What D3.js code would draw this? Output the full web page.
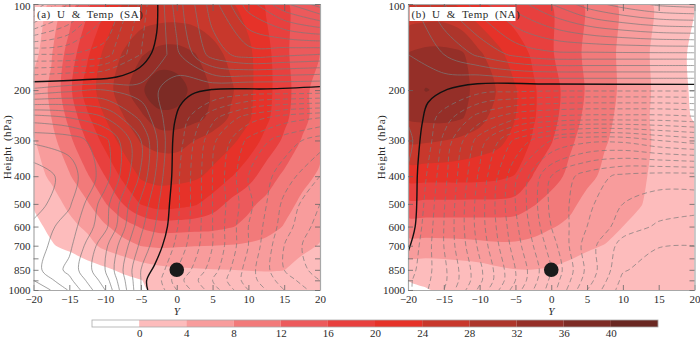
<!DOCTYPE html>
<html>
<head>
  <meta charset="utf-8">
  <script src="https://d3js.org/d3.v7.min.js"></script>
  <style>
    body { margin: 0; background: #fff; }
    svg { display: block; font-family: "Liberation Serif", serif; }
    .axis path { stroke: #a8a8a8; stroke-width: 1.2px; fill: none; }
    .axis line { stroke: #666; stroke-width: 0.8px; }
    .axis text { font-size: 11px; fill: #2a2a2a; font-family: "Liberation Serif", serif; }
  </style>
</head>
<body>
  <div id="chart"></div>
  <script>
    // Grid of the fields: hPa rows from the top of the plot, Y columns
    const levels = [100, 150, 200, 250, 300, 400, 500, 600, 700, 850, 925, 1000];
    const tempCols = [-20, -17.5, -15, -12.5, -10, -7.5, -5, -2.5, 0, 2.5, 5, 7.5, 10, 12.5, 15, 17.5, 20];
    const windCols = [-20, -15, -10, -5, 0, 5, 10, 15, 20];

    // Temperature anomaly, panel (a) SA
    const tempA = [
      [2, 4.5, 9.7, 15, 19.3, 24.1, 24.3, 24.5, 24.7, 24.7, 24.6, 24.3, 22.7, 19.5, 16.7, 14, 11.8],
      [2.5, 7.7, 13.8, 19.3, 25.2, 28.3, 31.6, 33.5, 33.7, 32.2, 29.5, 27, 24.8, 21.3, 16.8, 14, 12],
      [5.3, 8.7, 15, 22, 26, 30.3, 35.3, 39, 38, 34.7, 31.5, 28.7, 25, 21.3, 17.5, 13.8, 9.5],
      [5.5, 8, 13, 19.2, 24, 27.7, 31, 34.6, 34.7, 33.3, 31, 27.5, 24.6, 20.8, 17, 13.3, 10],
      [3.7, 6.7, 11, 16.3, 21.5, 25.4, 28.3, 29.5, 29.5, 28, 26, 25, 22.3, 18.8, 15.3, 11.7, 9],
      [2.5, 4.6, 7.6, 11.5, 16, 21, 24.5, 25, 25, 24.6, 23.2, 20.3, 17.6, 14, 11.2, 9, 7.5],
      [0.3, 2.5, 4.8, 7.5, 11.7, 16, 20.2, 22, 21.5, 20.5, 18, 15, 12.8, 11, 9.2, 7.3, 5.8],
      [-1.2, 1, 3, 4.7, 7.5, 10, 12.4, 13.8, 13.8, 13.5, 13.2, 12.3, 11, 9.5, 7.8, 6.2, 4.8],
      [-2.8, -0.4, 1.2, 2.7, 5, 6.5, 8.1, 8.5, 8.3, 8.1, 8, 7.8, 7.4, 6.8, 5.8, 4.8, 3.8],
      [-6, -5, -3.7, -1.8, -0.7, 0.8, 2, 3, 3.5, 3.7, 3.9, 4, 4.1, 4.2, 4.05, 2.8, 1.8],
      [-7, -6, -4.5, -3.5, -2.5, -1.2, -0.1, 1.3, 2, 2.5, 2.8, 3, 3, 3, 2.6, 2, 1.5],
      [-8, -7, -6, -5, -3.5, -2, -0.5, 0.8, 1.5, 2, 2.2, 2.4, 2.4, 2.4, 2.2, 1.8, 1.5]
    ];

    // Temperature anomaly, panel (b) NA
    const tempB = [
      [24.5, 25, 25, 23, 20.5, 19, 17.8, 16.9, 16, 13.8, 11.5, 9.4, 7.3, 5.3, 3.3, 1.6, 0.2],
      [32.2, 33.2, 33.2, 32.6, 28.7, 25.2, 22, 19.4, 16.4, 13.8, 11.2, 9.3, 7.2, 5, 3, 1.4, -1],
      [34, 36.2, 35.2, 33, 30.8, 27.7, 24.3, 20.5, 17.6, 14.5, 11.6, 9.4, 7.3, 5.1, 3.2, 1, -0.5],
      [32.4, 33, 33.2, 32.3, 29.5, 26, 24, 20.4, 17.3, 14, 11, 8.9, 7, 5, 3, 1.3, -0.3],
      [28.7, 28.5, 28, 27, 26, 25, 22.8, 19.5, 16.3, 12.7, 10.5, 8.3, 6.8, 5, 3.3, 2, 1],
      [21.5, 21.5, 21.5, 21.5, 21.3, 20.9, 19.8, 15.8, 13.5, 11.2, 9, 7.2, 5.9, 4.4, 3.3, 2.5, 2],
      [15, 15, 15, 15, 15, 15, 14.5, 12.3, 10.6, 9, 6.8, 5.8, 5, 4.1, 3, 2.5, 2],
      [10, 10, 10, 10, 10, 10, 9.8, 9.3, 8.3, 7.2, 6, 5, 4, 3.3, 2.7, 2.2, 2],
      [6.5, 6.6, 6.7, 6.9, 7.2, 7.5, 7.5, 7, 6, 5.2, 4.4, 3.9, 3.3, 2.8, 2.4, 2.2, 2],
      [1.5, 1.6, 1.8, 2.2, 2.6, 3.4, 3.9, 3.95, 3.7, 3.2, 2.8, 2.5, 2.3, 2.2, 2, 1.9, 1.9],
      [0, 0.6, 1, 1.2, 1.5, 1.8, 2, 2, 2, 2, 1.9, 1.8, 1.7, 1.7, 1.7, 1.7, 1.7],
      [-1, -0.2, 0.5, 0.8, 1, 1, 1, 1, 1, 1, 1, 1, 1, 1, 1, 1, 1]
    ];

    // Zonal wind, panel (a)
    const windA = [
      [24, 18, 11, 3.5, -5, -11, -17, -21.6, -25],
      [8, 8, 7, 2, -3.5, -9, -11, -10.5, -10],
      [-2.5, -3.5, -4, -3, -1, -0.2, 0.6, 0.6, 0.7],
      [-13, -12, -10, -5.5, 0.2, 5.5, 9, 11, 12],
      [-17.6, -17.2, -14.6, -8, 0.8, 7.5, 12.5, 15, 17],
      [-21.5, -19, -15, -7.6, 1.5, 8, 14, 17, 20],
      [-21, -18.3, -12.9, -5.5, 1.5, 8, 13.4, 18.5, 22],
      [-19.5, -17, -12.6, -4.5, 1.8, 8, 14, 19, 23],
      [-19, -16.5, -10.5, -3.5, 2.5, 8, 14, 20, 24],
      [-18.8, -15.4, -10, -2, 4, 9, 15, 20, 23],
      [-20, -16.5, -11, -2, 5, 10, 15, 19, 22],
      [-22, -17.8, -12, -2, 4, 9, 14, 18, 21]
    ];

    // Zonal wind, panel (b)
    const windB = [
      [-3, -8, -11, -15, -18, -21, -23, -24.5, -25],
      [-2, -4, -6.5, -8.5, -9.5, -9.5, -9.5, -9.5, -9.5],
      [-2, -0.2, 1.3, 1.5, 1.7, 1.7, 1.7, 1.7, 1.7],
      [-1.5, 3, 7, 9.5, 10.5, 11, 11, 11, 10.5],
      [-3, 4.5, 11, 16.5, 20, 21.5, 21.5, 20, 19],
      [-1.5, 5.3, 12.4, 19.6, 26, 29, 30.5, 31, 31],
      [-1, 5.8, 13, 20, 26.5, 29.5, 32, 33, 33],
      [-0.5, 6, 13, 19.5, 26, 30, 33, 34.3, 35],
      [0.2, 6, 12.5, 19, 25, 31, 34.8, 35.9, 36],
      [1, 5.5, 11.5, 18, 24, 30.5, 35.8, 37, 37],
      [1.5, 5.5, 11.5, 18, 24.5, 31, 36.5, 37, 37],
      [1.5, 6, 12.5, 19, 25, 32, 37, 37, 37]
    ];

    // Zero wind line, [Y, hPa]
    const zeroA1 = [[-2.65, 100], [-2.8, 126], [-3.5, 148], [-5.2, 167], [-8.4, 180], [-13.1, 184], [-20, 187]];
    const zeroA2 = [[-4.05, 1000], [-4.2, 925], [-3.1, 817], [-2, 701], [-1.3, 600], [-1, 495], [-0.7, 399], [-0.55, 298], [-0.3, 260], [0.4, 228], [2.1, 207], [5, 199], [12.6, 198], [20, 194.5]];
    const zeroB = [[-20, 736], [-19, 600], [-18.7, 399], [-18.6, 359], [-18, 260], [-17.2, 221], [-14.5, 199], [-10.3, 190], [-0.1, 190.5], [20, 191]];

    // Shading
    const tempThresholds = [0, 4, 8, 12, 16, 20, 24, 28, 32, 36, 40];
    const tempColors = ["#fdbcbc", "#f89c9c", "#f27a7a", "#ec5a5c", "#e8403e", "#e63229", "#c8382c", "#ad352b", "#952f28", "#7d2b25", "#6a2822"];
    const windThresholds = d3.range(-40, 41, 2).filter(d => d !== 0);

    // Axes
    const xTicks = [-20, -15, -10, -5, 0, 5, 10, 15, 20];
    const pTicks = [100, 200, 300, 400, 500, 600, 700, 775, 850, 925, 1000];
    const pLabels = [100, 200, 300, 400, 500, 600, 700, 850, 1000];
    const legendLabels = [0, 4, 8, 12, 16, 20, 24, 28, 32, 36, 40];

    const plotTop = 4, plotBottom = 290, panelWidth = 286.5;

    const svg = d3.select("#chart").append("svg")
      .attr("width", 700)
      .attr("height", 338);

    const y = d3.scaleLog().domain([100, 1000]).range([plotTop, plotBottom]);
    const rowToY = d3.scaleLinear().domain(d3.range(levels.length)).range(levels.map(d => y(d)));

    const closedCurve = d3.line().curve(d3.curveCatmullRomClosed.alpha(0.5));
    const openCurve = d3.line().curve(d3.curveCatmullRom.alpha(0.5));

    // drop repeats left by clamping the contour rings to the grid
    const dedupe = pts => pts.filter((p, i) => i === 0 || p[0] !== pts[i - 1][0] || p[1] !== pts[i - 1][1]);

    let clipId = 0;

    function drawPanel(left, temp, wind, zeros, title, titleWidth, centerY) {
      const x = d3.scaleLinear().domain([-20, 20]).range([left, left + panelWidth]);

      // grid position from d3.contours to pixels
      const gridScale = cols => {
        const colToX = d3.scaleLinear().domain(d3.range(cols.length)).range(cols.map(d => x(d)));
        return p => [
          colToX(Math.max(0, Math.min(cols.length - 1, p[0] - 0.5))),
          rowToY(Math.max(0, Math.min(levels.length - 1, p[1] - 0.5)))
        ];
      };

      const id = "clip" + (clipId++);
      svg.append("clipPath").attr("id", id).append("rect")
        .attr("x", left).attr("y", plotTop).attr("width", panelWidth).attr("height", plotBottom - plotTop);

      const g = svg.append("g").attr("clip-path", `url(#${id})`);

      // Temperature shading
      const toTempPx = gridScale(tempCols);
      const tempBands = d3.contours()
        .size([tempCols.length, levels.length])
        .thresholds(tempThresholds)(temp.flat());
      g.selectAll(".band").data(tempBands).join("path")
        .attr("class", "band")
        .attr("fill-rule", "evenodd")
        .attr("d", d => d.coordinates.flat().map(ring => {
          const pts = dedupe(ring.map(toTempPx));
          return closedCurve(pts.slice(0, -1));
        }).join(""))
        .attr("fill", (d, i) => tempColors[i]);

      // Wind contours, dashed where positive
      const toWindPx = gridScale(windCols);
      const onBorder = (a, b) =>
        (a[0] === b[0] && (a[0] === x(-20) || a[0] === x(20))) ||
        (a[1] === b[1] && (a[1] === plotTop || a[1] === plotBottom));
      const windLines = d3.contours()
        .size([windCols.length, levels.length])
        .thresholds(windThresholds)(wind.flat());
      windLines.forEach(c => {
        const pieces = [];
        c.coordinates.flat().forEach(ring => {
          let run = [];
          const pts = dedupe(ring.map(toWindPx));
          pts.forEach((p, i) => {
            if (i > 0 && onBorder(pts[i - 1], p)) {
              if (run.length > 1) pieces.push(run);
              run = [];
            }
            run.push(p);
          });
          if (run.length > 1) pieces.push(run);
        });
        g.append("path")
          .attr("d", pieces.map(openCurve).join(""))
          .attr("fill", "none")
          .attr("stroke", "#7a7a7a")
          .attr("stroke-width", 0.7)
          .attr("stroke-dasharray", c.value > 0 ? "5,3" : null);
      });

      // Zero line
      const zeroLine = d3.line()
        .x(d => x(d[0]))
        .y(d => y(d[1]))
        .curve(d3.curveCatmullRom.alpha(0.5));
      zeros.forEach(z => {
        g.append("path")
          .attr("d", zeroLine(z))
          .attr("fill", "none")
          .attr("stroke", "#111")
          .attr("stroke-width", 1.4);
      });

      // Frame and ticks
      svg.append("g").attr("class", "axis")
        .attr("transform", `translate(0,${plotBottom})`)
        .call(d3.axisBottom(x).tickValues(xTicks).tickSize(-5).tickSizeOuter(0).tickPadding(5));
      svg.append("g").attr("class", "axis")
        .attr("transform", `translate(0,${plotTop})`)
        .call(d3.axisTop(x).tickValues(xTicks).tickSize(-7).tickSizeOuter(0).tickFormat(""));
      svg.append("g").attr("class", "axis")
        .attr("transform", `translate(${left},0)`)
        .call(d3.axisLeft(y).tickValues(pTicks).tickSize(-5).tickSizeOuter(0).tickPadding(3)
          .tickFormat(d => pLabels.includes(d) ? d : ""))
        // the top label would run off the page, nudge it down
        .call(a => a.selectAll("text").filter(d => d === 100).attr("dy", "0.52em"));
      svg.append("g").attr("class", "axis")
        .attr("transform", `translate(${left + panelWidth},0)`)
        .call(d3.axisRight(y).tickValues(pTicks).tickSize(-5).tickSizeOuter(0).tickFormat(""));

      // Axis titles
      svg.append("text")
        .attr("x", x(0)).attr("y", 315)
        .attr("text-anchor", "middle")
        .attr("fill", "#2a2a2a")
        .style("font-style", "italic")
        .style("font-size", "11px")
        .text("Y");
      svg.append("text")
        .attr("transform", `translate(${left - 23},${(plotTop + plotBottom) / 2}) rotate(-90)`)
        .attr("text-anchor", "middle")
        .attr("fill", "#2a2a2a")
        .style("font-size", "11px")
        .style("letter-spacing", "0.5px")
        .style("word-spacing", "2px")
        .text("Height (hPa)");

      // Storm centre
      svg.append("circle")
        .attr("cx", x(0)).attr("cy", y(centerY))
        .attr("r", 7.3)
        .attr("fill", "#1a1a1a");

      // Panel title
      svg.append("rect")
        .attr("x", left + 1.5).attr("y", 7)
        .attr("width", titleWidth).attr("height", 14)
        .attr("fill", "#fff");
      svg.append("text")
        .attr("x", left + 3.5).attr("y", 17.5)
        .attr("fill", "#2a2a2a")
        .style("font-size", "11px")
        .style("word-spacing", "3px")
        .style("letter-spacing", "0.5px")
        .text(title);
    }

    drawPanel(33.5, tempA, windA, [zeroA1, zeroA2], "(a) U & Temp (SA)", 105, 850);
    drawPanel(408, tempB, windB, [zeroB], "(b) U & Temp (NA)", 106, 850);

    // Colour bar
    const legendX = d3.scaleLinear().domain([-4, 44]).range([92, 658]);
    const legend = svg.append("g");
    legend.append("rect")
      .attr("x", legendX(-4)).attr("y", 320)
      .attr("width", legendX(0) - legendX(-4)).attr("height", 7)
      .attr("fill", "#fff");
    legend.selectAll(".swatch").data(tempThresholds).join("rect")
      .attr("class", "swatch")
      .attr("x", d => legendX(d))
      .attr("y", 320)
      .attr("width", 47.2)
      .attr("height", 7)
      .attr("fill", (d, i) => tempColors[i]);
    legend.append("rect")
      .attr("x", legendX(-4)).attr("y", 320)
      .attr("width", legendX(44) - legendX(-4)).attr("height", 7)
      .attr("fill", "none")
      .attr("stroke", "#aaa")
      .attr("stroke-width", 0.8);
    legend.append("g").attr("class", "axis")
      .attr("transform", "translate(0,327)")
      .call(d3.axisBottom(legendX).tickValues(legendLabels).tickSize(0).tickPadding(2))
      .call(g => g.select(".domain").remove());
  </script>
</body>
</html>
